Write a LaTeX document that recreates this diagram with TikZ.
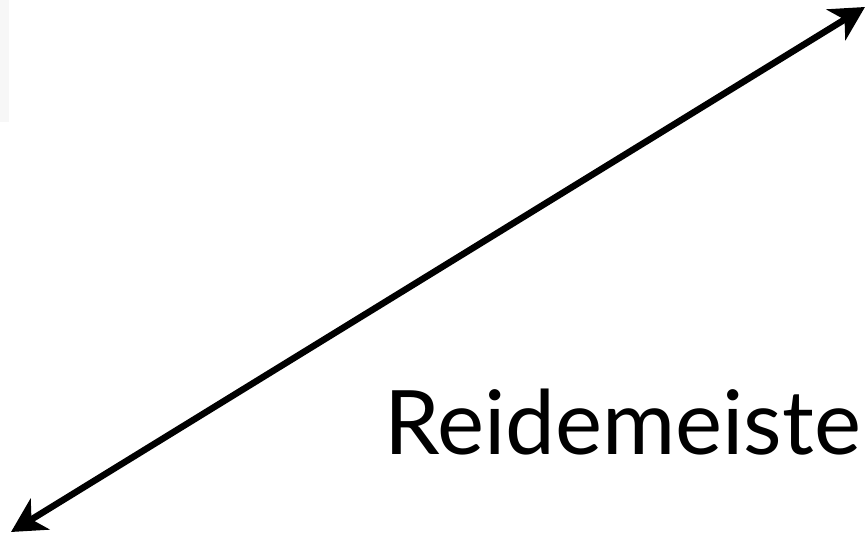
\documentclass[tikz,border=0pt]{standalone}
\usepackage{fontspec}
\setmainfont{Lato}
\usetikzlibrary{arrows.meta}
\tikzset{
  dblarrow/.style={line width=6.5pt, {Stealth[length=34pt,width=36pt,inset=10pt]}-{Stealth[length=34pt,width=36pt,inset=10pt]}},
  bigtext/.style={font=\fontsize{89}{100}\selectfont, inner sep=0pt, anchor=base west}
}
\begin{document}
\begin{tikzpicture}[x=1pt,y=1pt]
\useasboundingbox (0,0) rectangle (867,534);
\clip (0,0) rectangle (867,534);
\fill[fill=black!3] (0,534) rectangle (9,412);
\coordinate (a) at (11,2);
\coordinate (b) at (865,527);
\draw[dblarrow] (a) -- (b);
\node[bigtext] (t) at (384,79) {Reidemeister};
\end{tikzpicture}
\end{document}
